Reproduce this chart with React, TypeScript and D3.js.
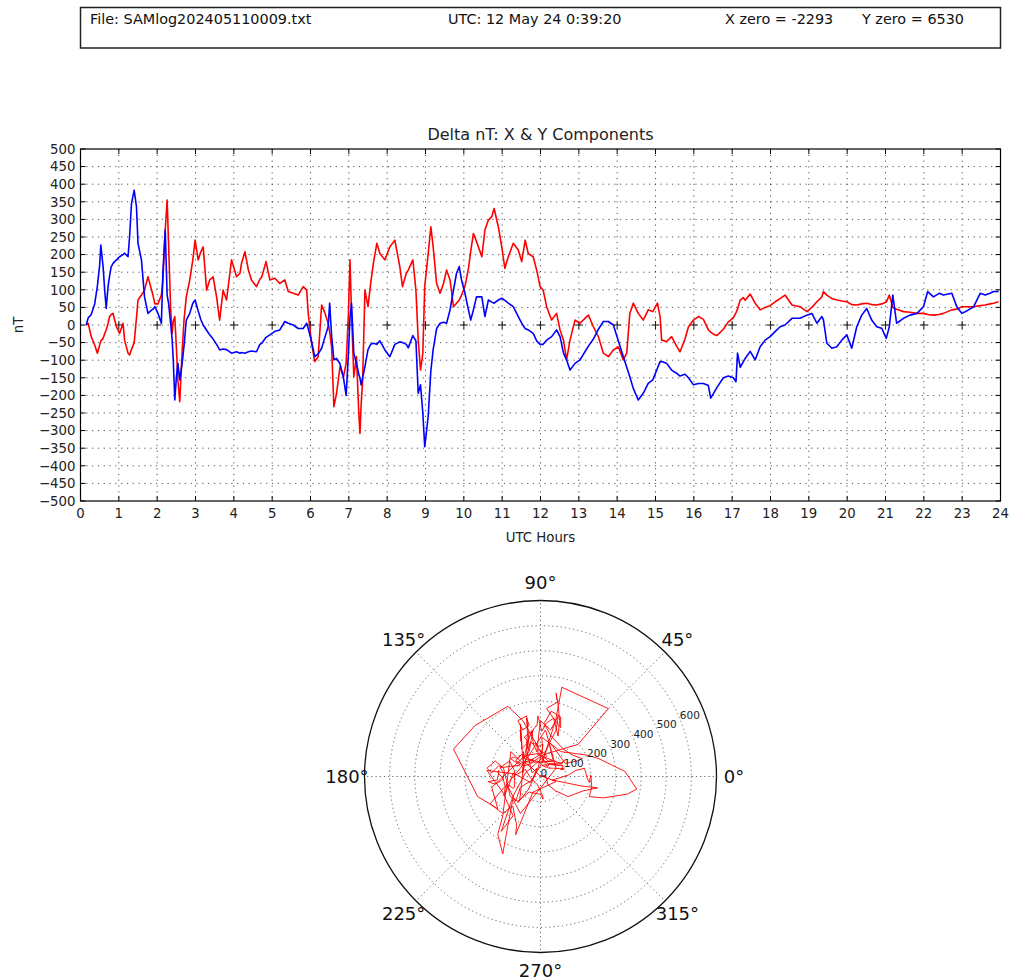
import React from 'react';
import * as d3 from 'd3';

// ---------- header texts ----------
const HEADER_FILE = 'File: SAMlog202405110009.txt';
const HEADER_UTC = 'UTC: 12 May 24 0:39:20';
const HEADER_XZERO = 'X zero = -2293';
const HEADER_YZERO = 'Y zero = 6530';
const CHART_TITLE = 'Delta nT: X & Y Components';
const X_LABEL = 'UTC Hours';
const Y_LABEL = 'nT';

// ---------- data (UTC hours, delta nT) ----------
const HOURS = [
  0.15, 0.2, 0.28, 0.37, 0.44, 0.5, 0.53, 0.59, 0.63, 0.67, 0.72, 0.76, 0.8, 0.85, 0.89, 0.94,
  1.02, 1.11, 1.15, 1.24, 1.28, 1.33, 1.4, 1.46, 1.5, 1.59, 1.67, 1.76, 1.83, 1.89, 1.94,
  2.02, 2.11, 2.15, 2.21, 2.26, 2.3, 2.35, 2.39, 2.42, 2.46, 2.5, 2.54, 2.59, 2.65, 2.7, 2.76, 2.85, 2.93, 2.99,
  3.07, 3.14, 3.2, 3.29, 3.37, 3.46, 3.55, 3.63, 3.72, 3.81, 3.94,
  4.07, 4.16, 4.2, 4.29, 4.38, 4.46, 4.59, 4.68, 4.73, 4.84, 4.94,
  5.07, 5.2, 5.33, 5.42, 5.55, 5.68, 5.81, 5.9, 5.94,
  6.03, 6.11, 6.2, 6.29, 6.38, 6.46, 6.5, 6.55, 6.61, 6.68, 6.77, 6.86, 6.93, 6.99,
  7.03, 7.07, 7.13, 7.2, 7.26, 7.29, 7.32, 7.36, 7.42, 7.5, 7.57, 7.64, 7.73, 7.81, 7.94,
  8.07, 8.2, 8.33, 8.4, 8.5, 8.55, 8.67, 8.75, 8.81, 8.87, 8.93, 8.98,
  9.07, 9.14, 9.2, 9.29, 9.38, 9.47, 9.55, 9.64, 9.73, 9.81, 9.88, 9.94,
  10.03, 10.12, 10.18, 10.25, 10.33, 10.47, 10.55, 10.64, 10.73, 10.79, 10.9, 10.99,
  11.07, 11.16, 11.29, 11.42, 11.51, 11.6, 11.68, 11.81, 11.9, 11.99,
  12.07, 12.16, 12.29, 12.42, 12.51, 12.6, 12.68, 12.77, 12.9,
  13.03, 13.16, 13.25, 13.38, 13.51, 13.64, 13.77, 13.9,
  14.03, 14.16, 14.25, 14.33, 14.42, 14.55, 14.68, 14.81, 14.93,
  15.05, 15.12, 15.16, 15.29, 15.42, 15.55, 15.64, 15.77, 15.86, 15.99,
  16.12, 16.25, 16.38, 16.44, 16.51, 16.6, 16.77, 16.9,
  17.03, 17.1, 17.14, 17.21, 17.29, 17.34, 17.47, 17.6, 17.73, 17.86, 17.99,
  18.12, 18.25, 18.38, 18.56, 18.77, 18.95,
  19.08, 19.21, 19.34, 19.38, 19.47, 19.6, 19.73, 19.86, 19.99,
  20.12, 20.25, 20.38, 20.51, 20.64, 20.77, 20.9,
  21.02, 21.1, 21.19, 21.29, 21.47, 21.64, 21.82, 21.99,
  22.1, 22.25, 22.4, 22.51, 22.73, 22.86, 22.99,
  23.12, 23.3, 23.47, 23.6, 23.73, 23.82, 23.95,
];

// X component (blue)
const X_NT = [
  0, 20, 30, 60, 110, 170, 227, 165, 100, 47, 110, 140, 165, 175, 180, 185,
  194, 200, 204, 194, 250, 345, 383, 336, 232, 185, 80, 33, 40, 45, 52,
  33, 5, 150, 270, 85, 60, 5, -40, -100, -213, -150, -109, -156, -110, -60, 14, 33, 62, 71,
  40, 15, 0, -15, -28, -40, -55, -71, -68, -70, -80,
  -76, -80, -78, -80, -76, -74, -76, -55, -52, -35, -28,
  -18, -14, 10, 5, 0, -10, -10, 5, -10,
  -48, -90, -82, -66, -33, -5, 62, -30, -99, -95, -110, -150, -200, -80,
  20, 62, -80, -110, -140, -150, -170, -150, -118, -70, -55, -52, -55, -45, -71,
  -90, -55, -48, -50, -55, -65, -30, -45, -194, -170, -250, -346,
  -260, -130, -70, -10, 5, 8, 5, 43, 99, 147, 166, 128,
  90, 43, 14, 43, 80, 80, 24, 71, 65, 62, 71, 76,
  70, 62, 52, 24, 5, -10, -14, -24, -45, -55,
  -55, -43, -33, -14, -33, -80, -99, -128, -109,
  -99, -76, -60, -40, -12, 10, 10, 0,
  -45, -90, -120, -147, -180, -213, -194, -166, -156,
  -123, -104, -104, -109, -128, -137, -145, -140, -150, -170,
  -166, -166, -172, -208, -195, -178, -150, -145,
  -150, -161, -80, -120, -105, -95, -75, -99, -62, -43, -33,
  -19, -5, 0, 19, 19, 28,
  33, 5, 24, 15, -52, -66, -62, -43, -28,
  -66, -5, 28, 47, 14, -5, -9,
  -38, -5, 85, 5, 19, 28, 33, 52,
  95, 80, 90, 85, 90, 52, 33,
  40, 52, 90, 85, 90, 95, 95,
];

// Y component (red)
const Y_NT = [
  0, 5, -33, -57, -80, -57, -45, -38, -25, -14, 5, 24, 30, 33, 15, -5,
  -24, 5, -43, -80, -85, -70, -50, 20, 71, 85, 99, 137, 109, 85, 60,
  60, 85, 128, 270, 355, 222, 52, -24, 10, 24, -62, -156, -218, -80, 14, 80, 128, 185, 241,
  185, 208, 222, 99, 128, 137, 80, 14, 99, 71, 185,
  137, 147, 175, 208, 156, 128, 109, 130, 137, 180, 128,
  133, 118, 128, 95, 90, 85, 109, 99, 33,
  -52, -104, -90, 57, 33, 5, -20, -62, -232, -194, -118, -147, -109, 33,
  185, 33, -147, -90, -251, -308, -230, -156, 99, 52, 118, 175, 232, 203, 185,
  222, 241, 166, 109, 147, 156, 185, 99, -43, -128, -80, 109,
  203, 279, 222, 118, 90, 118, 156, 128, 52, 62, 71, 85,
  110, 160, 210, 260, 237, 194, 270, 298, 308, 331, 279, 222,
  161, 194, 232, 213, 180, 241, 203, 194, 156, 109,
  99, 52, 14, 33, -14, -43, -99, -43, 14,
  5, 19, 28, -5, -33, -80, -90, -71,
  -62, -99, -80, 33, 62, 33, 14, 43, 38,
  62, 24, -43, -47, -33, -60, -76, -40, -5, 14,
  24, 16, -14, -20, -26, -30, -12, 9,
  20, 35, 45, 71, 78, 70, 88, 62, 43, 50, 55,
  66, 75, 85, 57, 52, 38,
  50, 66, 80, 95, 85, 75, 71, 68, 66,
  58, 57, 60, 62, 58, 57, 60,
  65, 85, 50, 45, 38, 36, 33, 33,
  30, 28, 30, 33, 43, 45, 52,
  52, 52, 55, 57, 60, 62, 66,
];

const X_TICKS = d3.range(0, 25, 1);
const Y_TICKS = d3.range(-500, 501, 50);
const ZERO_MARKS = d3.range(1, 24, 1);

const POLAR_RINGS = [100, 200, 300, 400, 500, 600];
const POLAR_RING_LABELS = ['0', '100', '200', '300', '400', '500', '600'];
const POLAR_ANGLES = [0, 45, 90, 135, 180, 225, 270, 315];
const POLAR_MAX = 700;

// ---------- layout ----------
const W = 1011;
const H = 980;
const PLOT = { left: 80.5, right: 1000.5, top: 149, bottom: 501 };
const POLAR = { cx: 540.5, cy: 776.5, r: 176 };
const FONT = "'DejaVu Sans', 'Noto Sans', sans-serif";
const BLUE = '#0000ff';
const RED = '#ff0000';

const minus = (s: string) => s.replace('-', '\u2212');

export default function App() {
  const x = d3.scaleLinear().domain([0, 24]).range([PLOT.left, PLOT.right]);
  const y = d3.scaleLinear().domain([-500, 500]).range([PLOT.bottom, PLOT.top]);

  const idx = HOURS.map((_, i) => i);
  const lineX = d3
    .line<number>()
    .x((i) => x(HOURS[i]))
    .y((i) => y(X_NT[i]));
  const lineY = d3
    .line<number>()
    .x((i) => x(HOURS[i]))
    .y((i) => y(Y_NT[i]));

  const r = d3.scaleLinear().domain([0, POLAR_MAX]).range([0, POLAR.r]);
  const radial = d3
    .lineRadial<number>()
    .angle((i) => Math.PI / 2 - Math.atan2(Y_NT[i], X_NT[i]))
    .radius((i) => r(Math.hypot(X_NT[i], Y_NT[i])));

  const gridDash = '1.2,4.6';
  const tickLen = 5;

  return (
    <svg
      width={W}
      height={H}
      style={{ position: 'absolute', left: 0, top: 0, background: '#fff' }}
      fontFamily={FONT}
    >
      <rect x={0} y={0} width={W} height={H} fill="#fff" />
      {/* header box */}
      <rect x={80.5} y={7.5} width={920} height={40.5} fill="none" stroke="#222" strokeWidth={1.5} />
      <g fontSize={14.4} fill="#111">
        <text x={90} y={24}>{HEADER_FILE}</text>
        <text x={448} y={24}>{HEADER_UTC}</text>
        <text x={725} y={24}>{HEADER_XZERO}</text>
        <text x={862} y={24}>{HEADER_YZERO}</text>
      </g>

      {/* time series chart */}
      <text x={(PLOT.left + PLOT.right) / 2} y={140} textAnchor="middle" fontSize={16} fill="#222">
        {CHART_TITLE}
      </text>
      <g stroke="#000" strokeWidth={0.9} strokeDasharray={gridDash} opacity={0.75}>
        {Y_TICKS.filter((v) => v > -500 && v < 500).map((v) => (
          <line key={'gy' + v} x1={PLOT.left} x2={PLOT.right} y1={y(v)} y2={y(v)} />
        ))}
        {X_TICKS.filter((h) => h > 0 && h < 24).map((h) => (
          <line key={'gx' + h} x1={x(h)} x2={x(h)} y1={PLOT.top} y2={PLOT.bottom} />
        ))}
      </g>
      <g stroke="#222" strokeWidth={1.1}>
        {ZERO_MARKS.map((h) => (
          <g key={'z' + h}>
            <line x1={x(h) - 4} x2={x(h) + 4} y1={y(0)} y2={y(0)} />
            <line x1={x(h)} x2={x(h)} y1={y(0) - 4} y2={y(0) + 4} />
          </g>
        ))}
      </g>
      <path d={lineY(idx) || ''} fill="none" stroke={RED} strokeWidth={1.6} strokeLinejoin="round" />
      <path d={lineX(idx) || ''} fill="none" stroke={BLUE} strokeWidth={1.6} strokeLinejoin="round" />
      {/* ticks */}
      <g stroke="#000" strokeWidth={1}>
        {Y_TICKS.map((v) => (
          <g key={'ty' + v}>
            <line x1={PLOT.left} x2={PLOT.left + tickLen} y1={y(v)} y2={y(v)} />
            <line x1={PLOT.right} x2={PLOT.right - tickLen} y1={y(v)} y2={y(v)} />
          </g>
        ))}
        {X_TICKS.map((h) => (
          <g key={'tx' + h}>
            <line x1={x(h)} x2={x(h)} y1={PLOT.bottom} y2={PLOT.bottom - tickLen} />
            <line x1={x(h)} x2={x(h)} y1={PLOT.top} y2={PLOT.top + tickLen} />
          </g>
        ))}
      </g>
      <rect
        x={PLOT.left}
        y={PLOT.top}
        width={PLOT.right - PLOT.left}
        height={PLOT.bottom - PLOT.top}
        fill="none"
        stroke="#000"
        strokeWidth={1.2}
      />
      <g fontSize={13.3} fill="#222">
        {Y_TICKS.map((v) => (
          <text key={'ly' + v} x={PLOT.left - 5} y={y(v)} dy="0.36em" textAnchor="end">
            {minus(String(v))}
          </text>
        ))}
        {X_TICKS.map((h) => (
          <text key={'lx' + h} x={x(h)} y={PLOT.bottom + 17} textAnchor="middle">
            {String(h)}
          </text>
        ))}
        <text x={(PLOT.left + PLOT.right) / 2} y={542} textAnchor="middle">
          {X_LABEL}
        </text>
        <text transform={`translate(23, ${y(0)}) rotate(-90)`} textAnchor="middle">
          {Y_LABEL}
        </text>
      </g>

      {/* polar plot */}
      <g transform={`translate(${POLAR.cx}, ${POLAR.cy})`}>
        <g stroke="#555" strokeWidth={0.9} strokeDasharray="1.2,3" fill="none">
          {POLAR_RINGS.map((v) => (
            <circle key={'pr' + v} r={r(v)} />
          ))}
          {POLAR_ANGLES.map((a) => (
            <line
              key={'pa' + a}
              x1={0}
              y1={0}
              x2={POLAR.r * Math.cos((a * Math.PI) / 180)}
              y2={-POLAR.r * Math.sin((a * Math.PI) / 180)}
            />
          ))}
        </g>
        <path d={radial(idx) || ''} fill="none" stroke={RED} strokeWidth={0.9} strokeLinejoin="round" />
        <circle r={POLAR.r} fill="none" stroke="#111" strokeWidth={1.3} />
        <g fontSize={10.5} fill="#222">
          {POLAR_RING_LABELS.map((lab, i) => {
            const rr = r(i * 100);
            const a = (22.5 * Math.PI) / 180;
            return (
              <text key={'rl' + lab} x={rr * Math.cos(a)} y={-rr * Math.sin(a)}>
                {lab}
              </text>
            );
          })}
        </g>
        <g fontSize={18} fill="#111">
          {POLAR_ANGLES.map((a) => {
            const rr = POLAR.r * 1.1;
            return (
              <text
                key={'al' + a}
                x={rr * Math.cos((a * Math.PI) / 180)}
                y={-rr * Math.sin((a * Math.PI) / 180)}
                textAnchor="middle"
                dy="0.36em"
              >
                {a + '\u00b0'}
              </text>
            );
          })}
        </g>
      </g>
    </svg>
  );
}
